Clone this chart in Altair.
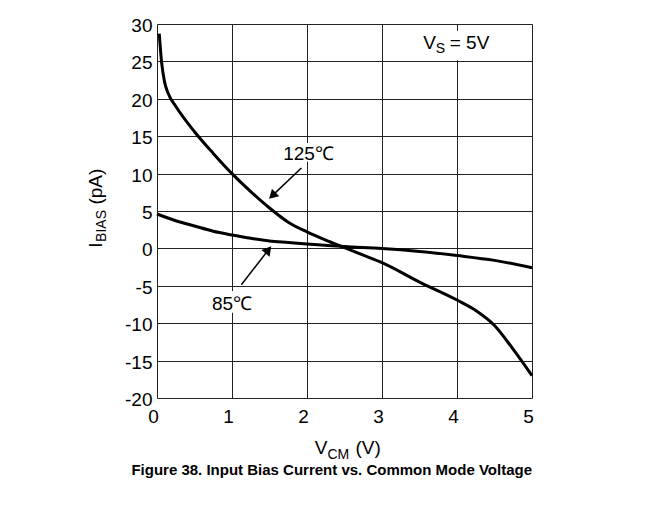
import altair as alt
import pandas as pd

# ---- data ----
vcm_125 = [0.03, 0.06, 0.10, 0.15, 0.25, 0.50, 0.75, 1.00, 1.25, 1.50, 1.75, 2.00, 2.25, 2.50, 2.75, 3.00, 3.50, 4.00, 4.25, 4.50, 4.75, 5.00]
ib_125 = [28.7, 25.0, 22.3, 20.7, 19.0, 15.6, 12.7, 10.0, 7.6, 5.4, 3.5, 2.2, 1.1, 0.1, -0.9, -1.9, -4.5, -6.9, -8.3, -10.3, -13.5, -17.0]

vcm_85 = [0.00, 0.25, 0.50, 0.75, 1.00, 1.25, 1.50, 1.75, 2.00, 2.50, 3.00, 3.50, 4.00, 4.50, 5.00]
ib_85 = [4.6, 3.7, 3.0, 2.3, 1.8, 1.35, 1.0, 0.8, 0.6, 0.25, 0.0, -0.4, -0.95, -1.6, -2.6]

x_ticks = [0, 1, 2, 3, 4, 5]
y_ticks = [-20, -15, -10, -5, 0, 5, 10, 15, 20, 25, 30]

labels = ["125℃", "85℃"]
label_x = [2.02, 1.00]
label_y = [11.86, -8.2]
arrow_x0 = [1.925, 1.125]
arrow_y0 = [10.75, -4.85]
arrow_x1 = [1.538, 1.485]
arrow_y1 = [7.06, -0.2]
arrow_angle = [226, 39]

FONT = "Liberation Sans"
FS = 19
SUB = 14
W, H = 375, 374

curves = pd.DataFrame(
    {"x": vcm_125 + vcm_85,
     "y": ib_125 + ib_85,
     "s": ["125"] * len(vcm_125) + ["85"] * len(vcm_85)}
)
ann = pd.DataFrame({"t": labels, "x": label_x, "y": label_y,
                    "x0": arrow_x0, "y0": arrow_y0, "x1": arrow_x1, "y1": arrow_y1,
                    "a": arrow_angle})
bg = pd.DataFrame({"x": [1.68, 0.73, 3.50], "x2": [2.35, 1.28, 4.44],
                   "y": [14.1, -5.7, 29.1], "y2": [11.6, -8.6, 25.15]})

xs = alt.Scale(domain=[0, 5], nice=False, zero=False)
ys = alt.Scale(domain=[-20, 30], nice=False, zero=False)

xaxis = alt.Axis(values=x_ticks, title=None, grid=True, gridColor="#222", gridWidth=1,
                 gridOpacity=1, ticks=False, domain=False, labelFont=FONT, labelFontSize=FS,
                 labelColor="black", labelPadding=9, labelOffset=-4, labelAngle=0,
                 labelOverlap=False, labelFlush=False, labelExpr="'' + datum.value")
yaxis = alt.Axis(values=y_ticks, title=None, grid=True, gridColor="#222", gridWidth=1,
                 gridOpacity=1, ticks=False, domain=False, labelFont=FONT, labelFontSize=FS,
                 labelColor="black", labelPadding=5, labelOffset=1.5,
                 labelOverlap=False, labelFlush=False, labelExpr="'' + datum.value")


def X(f):
    return alt.X(f, type="quantitative", scale=xs, axis=xaxis)


def Y(f):
    return alt.Y(f, type="quantitative", scale=ys, axis=yaxis)


lines = alt.Chart(curves).mark_line(color="black", strokeWidth=3, interpolate="monotone").encode(
    x=X("x"), y=Y("y"), detail="s:N")

bgr = alt.Chart(bg).mark_rect(fill="white").encode(x=X("x"), x2="x2", y=Y("y"), y2="y2")

txt = alt.Chart(ann).mark_text(font=FONT, fontSize=FS, color="black", align="center",
                               baseline="alphabetic").encode(x=X("x"), y=Y("y"), text="t:N")

shafts = alt.Chart(ann).mark_rule(color="black", strokeWidth=1.5).encode(
    x=X("x0"), y=Y("y0"), x2="x1", y2="y1")

heads = alt.Chart(ann).mark_point(shape="triangle-up", filled=True, color="black",
                                  opacity=1, size=110).encode(
    x=X("x1"), y=Y("y1"), angle=alt.Angle("a:Q", scale=None))

vs = pd.DataFrame({"x": [3.55], "y": [26.66]})
vs_main = alt.Chart(vs).mark_text(font=FONT, fontSize=FS, align="left", baseline="alphabetic",
                                  text="V").encode(x=X("x"), y=Y("y"))
vs_sub = alt.Chart(vs).mark_text(font=FONT, fontSize=SUB, align="left", baseline="alphabetic",
                                 text="S", dx=12.5, dy=4).encode(x=X("x"), y=Y("y"))
vs_rest = alt.Chart(vs).mark_text(font=FONT, fontSize=FS, align="left", baseline="alphabetic",
                                  text="= 5V", dx=26.5).encode(x=X("x"), y=Y("y"))


def ptext(s, x, y, size, angle=0, weight="normal", align="left"):
    return alt.Chart(pd.DataFrame({"a": [0]})).mark_text(
        font=FONT, fontSize=size, align=align, baseline="alphabetic", text=s,
        angle=angle, fontWeight=weight, color="black").encode(
        x=alt.value(x), y=alt.value(y))


xt = ptext("V", 157.7, 430.0, FS) + ptext("CM", 170.4, 434.5, SUB) + ptext("(V)", 198.5, 430.0, FS)
yt = (ptext("I", -55.3, 223.7, FS, angle=270) + ptext("BIAS", -51.5, 217.9, SUB, angle=270)
      + ptext("(pA)", -55.3, 180.6, FS, angle=270))

caption = ptext("Figure 38. Input Bias Current vs. Common Mode Voltage", 174.7, 451.0, 15,
                weight="bold", align="center")
topline = alt.Chart(pd.DataFrame({"a": [0]})).mark_rule(color="black", strokeWidth=1.5).encode(
    x=alt.value(-149), x2=alt.value(498), y=alt.value(-19.3))

chart = alt.layer(bgr, lines, txt, shafts, heads, vs_main, vs_sub, vs_rest, xt, yt, caption, topline).properties(
    width=W, height=H,
    autosize=alt.AutoSizeParams(type="none"),
    padding={"left": 149, "top": 16, "right": 123, "bottom": 102},
).configure_view(stroke="black", strokeWidth=2).configure(background="white")

chart.save("out.html", embed_options={"renderer": "svg", "actions": False})
